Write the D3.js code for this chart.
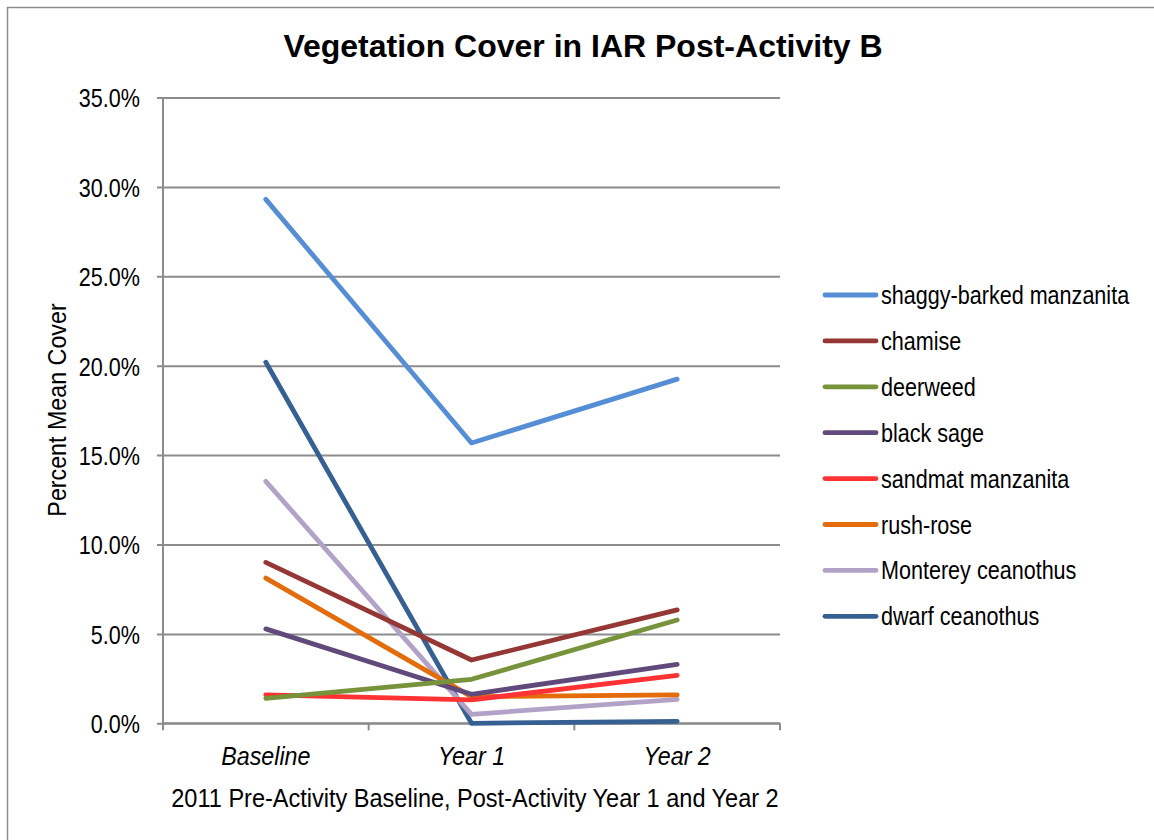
<!DOCTYPE html>
<html>
<head>
<meta charset="utf-8">
<script src="https://cdn.jsdelivr.net/npm/d3@7"></script>
<style>
  html, body { margin: 0; padding: 0; background: #fff; }
  svg { display: block; }
  text { font-family: "Liberation Sans", Arial, sans-serif; fill: #000; }
</style>
</head>
<body>
<svg id="chart" width="1154" height="840"></svg>
<script>
// Survey periods on the x axis
const periods = ["Baseline", "Year 1", "Year 2"];

// Percent mean cover per species (fraction of area)
const shaggyBarkedManzanita = [0.293, 0.1568, 0.1925];
const chamise               = [0.0900, 0.0354, 0.0634];
const deerweed              = [0.0140, 0.0246, 0.0578];
const blackSage             = [0.0528, 0.0162, 0.0330];
const sandmatManzanita      = [0.0159, 0.0131, 0.0268];
const rushRose              = [0.0812, 0.0149, 0.0159];
const montereyCeanothus     = [0.1353, 0.0050, 0.0134];
const dwarfCeanothus        = [0.2019, 0.0000, 0.0011];

const seriesNames = ["shaggy-barked manzanita", "chamise", "deerweed", "black sage",
                     "sandmat manzanita", "rush-rose", "Monterey ceanothus", "dwarf ceanothus"];
const seriesValues = [shaggyBarkedManzanita, chamise, deerweed, blackSage,
                      sandmatManzanita, rushRose, montereyCeanothus, dwarfCeanothus];
const seriesColors = ["#558ED5", "#953735", "#77933C", "#604A7B",
                      "#FF3333", "#E46C0A", "#B3A2C7", "#376092"];

const yTicks = [0, 0.05, 0.10, 0.15, 0.20, 0.25, 0.30, 0.35];

// Horizontal squeeze that gives the sans face a narrow look
const NARROW = 0.83;
const NARROW_AXIS = 0.895;

const svg = d3.select("#chart");

// Chart frame
svg.append("rect")
  .attr("x", 7.5).attr("y", 7.5)
  .attr("width", 1160).attr("height", 850)
  .attr("fill", "none").attr("stroke", "#8c8c8c").attr("stroke-width", 1.5);

const plot = { left: 163, right: 780, top: 97.5, bottom: 723.3 };

const x = d3.scaleBand().domain(periods).range([plot.left, plot.right]).padding(0);
const y = d3.scaleLinear().domain([0, 0.35]).range([plot.bottom, plot.top]);

// Horizontal gridlines with tick marks
const yAxis = d3.axisLeft(y).tickValues(yTicks).tickFormat(d3.format(".1%"))
  .tickSize(-(plot.right - plot.left)).tickPadding(0);
const gy = svg.append("g").attr("transform", `translate(${plot.left},0)`).call(yAxis);
gy.select(".domain").remove();
gy.selectAll(".tick line").attr("stroke", "#8c8c8c").attr("stroke-width", 2)
  .attr("x1", -6);
gy.selectAll(".tick text")
  .attr("x", -23 / NARROW)
  .attr("dy", "0.36em")
  .attr("transform", `scale(${NARROW},1)`)
  .attr("font-size", 26).attr("fill", "#000");

// Vertical axis line
svg.append("line")
  .attr("x1", plot.left).attr("x2", plot.left)
  .attr("y1", plot.top).attr("y2", plot.bottom)
  .attr("stroke", "#8c8c8c").attr("stroke-width", 2);

// Category axis with boundary ticks
const boundaries = periods.map(p => x(p)).concat([plot.right]);
svg.append("line")
  .attr("x1", plot.left).attr("x2", plot.right)
  .attr("y1", plot.bottom).attr("y2", plot.bottom)
  .attr("stroke", "#8c8c8c").attr("stroke-width", 2);
svg.selectAll(".xtick").data(boundaries).enter().append("line")
  .attr("class", "xtick")
  .attr("x1", d => d).attr("x2", d => d)
  .attr("y1", plot.bottom).attr("y2", plot.bottom + 7)
  .attr("stroke", "#8c8c8c").attr("stroke-width", 2);
svg.selectAll(".xlabel").data(periods).enter().append("text")
  .attr("class", "xlabel")
  .attr("transform", d => `translate(${x(d) + x.bandwidth() / 2},765) scale(${NARROW_AXIS},1)`)
  .attr("text-anchor", "middle")
  .attr("font-size", 26)
  .attr("font-style", "italic")
  .text(d => d);

// Series lines
const line = d3.line()
  .x((d, i) => x(periods[i]) + x.bandwidth() / 2)
  .y(d => y(d));

svg.append("g").selectAll("path")
  .data(seriesValues.map((v, i) => ({ v, i })).reverse())
  .enter().append("path")
  .attr("d", d => line(d.v))
  .attr("fill", "none")
  .attr("stroke", d => seriesColors[d.i])
  .attr("stroke-width", 4.8)
  .attr("stroke-linecap", "round")
  .attr("stroke-linejoin", "round");

// Title
svg.append("text")
  .attr("x", 583).attr("y", 57)
  .attr("text-anchor", "middle")
  .attr("font-size", 32).attr("font-weight", "bold")
  .text("Vegetation Cover in IAR Post-Activity B");

// Axis titles
svg.append("text")
  .attr("transform", `translate(66,410) rotate(-90) scale(${NARROW_AXIS},1)`)
  .attr("text-anchor", "middle")
  .attr("font-size", 26)
  .text("Percent Mean Cover");

svg.append("text")
  .attr("transform", `translate(475,807) scale(0.905,1)`)
  .attr("text-anchor", "middle")
  .attr("font-size", 26)
  .text("2011 Pre-Activity Baseline, Post-Activity Year 1 and Year 2");

// Legend
const legend = svg.append("g");
const rows = legend.selectAll("g").data(seriesNames).enter().append("g")
  .attr("transform", (d, i) => `translate(0,${295 + i * 45.9})`);
rows.append("line")
  .attr("x1", 825).attr("x2", 876)
  .attr("y1", 0).attr("y2", 0)
  .attr("stroke", (d, i) => seriesColors[i])
  .attr("stroke-width", 4.8)
  .attr("stroke-linecap", "round");
rows.append("text")
  .attr("transform", `translate(881,9) scale(${NARROW},1)`)
  .attr("font-size", 26)
  .text(d => d);
</script>
</body>
</html>
